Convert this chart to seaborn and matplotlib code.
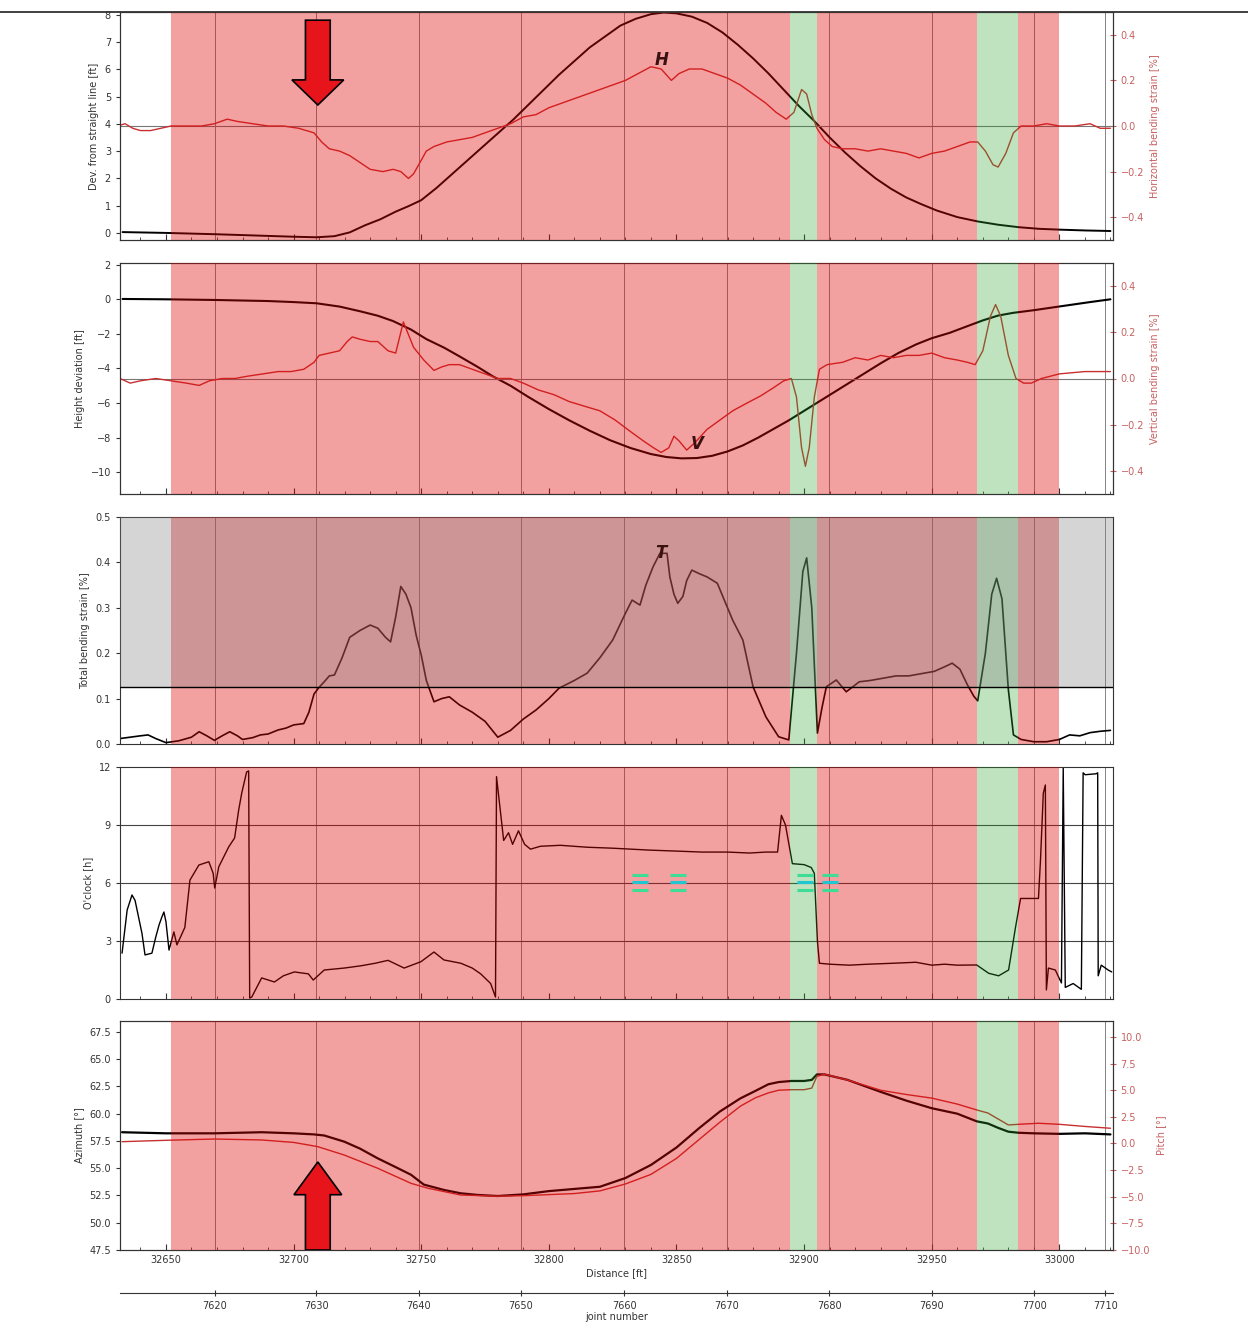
import numpy as np
import matplotlib
matplotlib.use("Agg")
import matplotlib.pyplot as plt
import seaborn as sns
from matplotlib.patches import FancyArrow
from matplotlib.lines import Line2D
from matplotlib.ticker import MultipleLocator

# ----- DATA -----
X_MIN, X_MAX = 32632, 33021

red_zones = [(32652, 32894.5), (32905, 32967.6), (32983.6, 33000)]
green_zones = [(32894.5, 32905), (32967.6, 32983.6)]

joint_pos = [32669.1, 32708.9, 32749.1, 32788.9, 32829.5, 32869.7, 32909.9, 32950.0, 32990.2, 33017.9]
joint_num = [7620, 7630, 7640, 7650, 7660, 7670, 7680, 7690, 7700, 7710]

# panel 1 : deviation from straight line (H) + horizontal bending strain
h_dist = [32633, 32650, 32670, 32690, 32700, 32709, 32716, 32722, 32728, 32734, 32740, 32745, 32750,
          32756, 32762, 32768, 32774, 32780, 32786, 32792, 32798, 32804, 32810, 32816, 32822, 32828,
          32834, 32840, 32845, 32850, 32856, 32862, 32868, 32874, 32880, 32886, 32892, 32898, 32904,
          32910, 32916, 32922, 32928, 32934, 32940, 32946, 32952, 32960, 32968, 32976, 32984, 32992,
          33000, 33010, 33020]
h_dev = [0.03, 0.0, -0.05, -0.11, -0.14, -0.16, -0.12, 0.02, 0.28, 0.5, 0.78, 0.98, 1.2,
         1.65, 2.15, 2.65, 3.15, 3.65, 4.15, 4.7, 5.25, 5.8, 6.3, 6.8, 7.2, 7.6,
         7.85, 8.02, 8.08, 8.05, 7.93, 7.7, 7.35, 6.9, 6.4, 5.85, 5.25, 4.65, 4.1,
         3.5, 2.95, 2.45, 2.0, 1.62, 1.3, 1.05, 0.82, 0.58, 0.42, 0.3, 0.21, 0.15,
         0.12, 0.09, 0.07]

hs_dist = [32631, 32634, 32637, 32640, 32644, 32648, 32652, 32658, 32664, 32669, 32674, 32678, 32684,
           32690, 32696, 32702, 32708, 32711, 32714, 32718, 32722, 32726, 32730, 32735, 32739, 32742,
           32745, 32747, 32750, 32752, 32755, 32760, 32765, 32770, 32775, 32780, 32785, 32790, 32795,
           32800, 32805, 32810, 32815, 32820, 32825, 32830, 32835, 32840, 32844, 32848, 32851, 32855,
           32860, 32865, 32870, 32875, 32880, 32885, 32889, 32893, 32896, 32899, 32901, 32903, 32905,
           32908, 32911, 32915, 32920, 32925, 32930, 32935, 32940, 32945, 32950, 32955, 32960, 32965,
           32968, 32971, 32974, 32976, 32979, 32982, 32985, 32990, 32995, 33000, 33006, 33012, 33016,
           33020]
hs_val = [0.0, 0.01, -0.01, -0.02, -0.02, -0.01, 0.0, 0.0, 0.0, 0.01, 0.03, 0.02, 0.01,
          0.0, 0.0, -0.01, -0.03, -0.07, -0.1, -0.11, -0.13, -0.16, -0.19, -0.2, -0.19, -0.2,
          -0.23, -0.21, -0.15, -0.11, -0.09, -0.07, -0.06, -0.05, -0.03, -0.01, 0.01, 0.04, 0.05,
          0.08, 0.1, 0.12, 0.14, 0.16, 0.18, 0.2, 0.23, 0.26, 0.25, 0.2, 0.23, 0.25,
          0.25, 0.23, 0.21, 0.18, 0.14, 0.1, 0.06, 0.03, 0.06, 0.16, 0.14, 0.05, -0.01,
          -0.06, -0.09, -0.1, -0.1, -0.11, -0.1, -0.11, -0.12, -0.14, -0.12, -0.11, -0.09, -0.07,
          -0.07, -0.11, -0.17, -0.18, -0.12, -0.03, 0.0, 0.0, 0.01, 0.0, 0.0, 0.01, -0.01,
          -0.01]

# panel 2 : height deviation (V) + vertical bending strain
v_dist = [32633, 32650, 32670, 32690, 32700, 32709, 32718, 32726, 32733, 32739, 32746, 32752, 32759,
          32765, 32772, 32778, 32785, 32792, 32800, 32808, 32816, 32824, 32832, 32840, 32846, 32852,
          32858, 32864, 32870, 32876, 32882, 32888, 32894, 32900, 32906, 32912, 32918, 32924, 32930,
          32937, 32944, 32950, 32957, 32964, 32970, 32976, 32982, 32990, 32996, 33004, 33012, 33020]
v_dev = [0.02, 0.0, -0.04, -0.1, -0.16, -0.23, -0.42, -0.69, -0.95, -1.26, -1.75, -2.3, -2.8,
         -3.3, -3.9, -4.45, -5.0, -5.65, -6.35, -7.0, -7.6, -8.15, -8.6, -8.95, -9.12, -9.2,
         -9.18, -9.05, -8.8, -8.45, -8.0, -7.5, -7.0, -6.45, -5.9, -5.35, -4.8, -4.25, -3.7,
         -3.1, -2.6, -2.25, -1.94, -1.55, -1.22, -0.94, -0.78, -0.63, -0.5, -0.33, -0.16, 0.0]

vs_dist = [32632, 32636, 32640, 32646, 32652, 32658, 32663, 32667, 32672, 32677, 32682, 32688, 32694,
           32699, 32704, 32708, 32710, 32714, 32718, 32721, 32723, 32726, 32730, 32733, 32737, 32740,
           32742, 32743, 32745, 32747, 32751, 32755, 32758, 32761, 32765, 32770, 32775, 32780, 32785,
           32790, 32796, 32802, 32808, 32814, 32820, 32826, 32832, 32837, 32841, 32844, 32847, 32849,
           32851, 32854, 32857, 32862, 32867, 32872, 32877, 32883, 32888, 32892, 32895, 32897, 32899,
           32900.5, 32902, 32904, 32906, 32909, 32915, 32920, 32925, 32930, 32935, 32940, 32945, 32950,
           32955, 32960, 32964, 32967, 32970, 32973, 32975, 32977, 32980, 32983, 32986, 32989, 32993,
           33000, 33010, 33020]
vs_val = [0.0, -0.02, -0.01, 0.0, -0.01, -0.02, -0.03, -0.01, 0.0, 0.0, 0.01, 0.02, 0.03,
          0.03, 0.04, 0.07, 0.1, 0.11, 0.12, 0.16, 0.18, 0.17, 0.16, 0.16, 0.12, 0.11,
          0.2, 0.245, 0.19, 0.135, 0.08, 0.035, 0.05, 0.06, 0.06, 0.04, 0.02, 0.0, 0.0,
          -0.02, -0.05, -0.07, -0.1, -0.12, -0.14, -0.18, -0.23, -0.27, -0.3, -0.32, -0.3, -0.25,
          -0.27, -0.31, -0.28, -0.22, -0.18, -0.14, -0.11, -0.075, -0.04, -0.01, 0.0, -0.08, -0.3,
          -0.38, -0.3, -0.08, 0.04, 0.06, 0.07, 0.09, 0.08, 0.1, 0.09, 0.1, 0.1, 0.11,
          0.09, 0.08, 0.07, 0.06, 0.12, 0.27, 0.32, 0.27, 0.1, 0.0, -0.02, -0.02, 0.0,
          0.02, 0.03, 0.03]

# panel 3 : total bending strain (T)
t_dist = [32632, 32636, 32640, 32643, 32646, 32650, 32655, 32660, 32663, 32666, 32669, 32672, 32675,
          32678, 32680, 32684, 32687, 32690, 32694, 32697, 32700, 32704, 32706, 32708, 32710, 32712,
          32714, 32716, 32719, 32722, 32726, 32730, 32733, 32736, 32738, 32740, 32742, 32744, 32746,
          32748, 32750, 32752, 32755, 32758, 32761, 32765, 32770, 32775, 32780, 32785, 32790, 32795,
          32800, 32804, 32810, 32815, 32820, 32825, 32830, 32832.6, 32835.7, 32838, 32840.8, 32843.5,
          32846.3, 32847.4, 32849, 32850.5, 32852.5, 32854, 32856, 32859, 32862, 32866, 32870, 32872,
          32876, 32880, 32885, 32890, 32894, 32897, 32899.5, 32901, 32903, 32905.2, 32907, 32908.7,
          32912.6, 32916.5, 32921.6, 32926, 32931, 32936, 32941, 32946, 32951, 32955, 32958, 32961,
          32964, 32966.5, 32968, 32971, 32973.5, 32975.4, 32977.5, 32980, 32982, 32985, 32990, 32995,
          33000, 33004, 33008, 33012, 33016, 33020]
t_val = [0.012, 0.015, 0.018, 0.02, 0.012, 0.003, 0.007, 0.015, 0.027, 0.018, 0.008, 0.018, 0.027,
         0.018, 0.01, 0.014, 0.02, 0.022, 0.031, 0.035, 0.042, 0.045, 0.07, 0.11, 0.125, 0.137,
         0.15, 0.152, 0.19, 0.235, 0.25, 0.262, 0.255, 0.235, 0.225, 0.28, 0.347, 0.33, 0.3,
         0.24, 0.196, 0.14, 0.093, 0.1, 0.104, 0.086, 0.07, 0.05, 0.015, 0.03, 0.055, 0.075,
         0.1, 0.123, 0.14, 0.156, 0.19, 0.229, 0.288, 0.317, 0.306, 0.35, 0.39, 0.42,
         0.42, 0.368, 0.33, 0.31, 0.325, 0.36, 0.383, 0.375, 0.368, 0.354, 0.3, 0.273,
         0.229, 0.126, 0.06, 0.016, 0.009, 0.2, 0.38, 0.41, 0.3, 0.024, 0.08, 0.126,
         0.141, 0.115, 0.137, 0.14, 0.145, 0.15, 0.15, 0.155, 0.16, 0.17, 0.178, 0.165,
         0.13, 0.105, 0.095, 0.2, 0.33, 0.365, 0.32, 0.12, 0.02, 0.01, 0.005, 0.005,
         0.01, 0.02, 0.018, 0.025, 0.028, 0.03]
t_limit = 0.125

# panel 4 : o'clock position
c_dist = [32632.8, 32634.8, 32636.7, 32637.9, 32640.6, 32641.8, 32644.5, 32646, 32647.3, 32648.4,
          32649.2, 32650, 32651.2, 32653.1, 32654.3, 32657.4, 32659.4, 32662.9, 32666.8, 32668.5,
          32669.1, 32670.7, 32674.6, 32676.9, 32678.5, 32679.7, 32681.6, 32682.4, 32682.8, 32683.6,
          32687.5, 32692.5, 32696, 32700.3, 32705.8, 32707.7, 32712, 32719.8, 32726.5, 32732,
          32737, 32743.3, 32749.9, 32755, 32758.9, 32765.5, 32770, 32773.3, 32777.2, 32779.1,
          32779.5, 32782.3, 32784.2, 32785.8, 32788.1, 32790.5, 32792.8, 32796.7, 32804.5, 32815,
          32825, 32839.6, 32850, 32860, 32870, 32878.6, 32885, 32889.6, 32891.1, 32892.7,
          32895.4, 32900, 32902.8, 32904, 32905.2, 32906, 32910, 32917.7, 32925, 32935,
          32943.8, 32950, 32955, 32960, 32967.6, 32972.3, 32976.2, 32980.1, 32982.8, 32984.8,
          32988, 32991.8, 32992.6, 32993.7, 32994.5, 32994.9, 32995.7, 32998.4, 33000.8, 33001.5,
          33002.3, 33005.4, 33008.6, 33009.3, 33010.1, 33014.4, 33015, 33015.2, 33016.4, 33019.1,
          33020.5]
c_val = [2.37, 4.6, 5.38, 5.1, 3.4, 2.28, 2.37, 3.2, 3.83, 4.24,
         4.5, 4.0, 2.53, 3.47, 2.8, 3.7, 6.15, 6.93, 7.1, 6.5,
         5.74, 6.84, 7.87, 8.33, 9.78, 10.66, 11.74, 11.8, 0.05, 0.1,
         1.09, 0.88, 1.2, 1.4, 1.3, 0.98, 1.5, 1.6, 1.72, 1.85,
         2.0, 1.6, 1.93, 2.43, 2.02, 1.85, 1.6, 1.3, 0.8, 0.1,
         11.5, 8.2, 8.6, 8.0, 8.7, 8.0, 7.75, 7.9, 7.95, 7.85,
         7.8, 7.7, 7.65, 7.6, 7.6, 7.55, 7.6, 7.6, 9.5, 9.0,
         7.0, 6.95, 6.8, 6.5, 3.0, 1.85, 1.8, 1.75, 1.8, 1.85,
         1.9, 1.75, 1.8, 1.75, 1.76, 1.33, 1.2, 1.5, 3.7, 5.2,
         5.2, 5.2, 7.2, 10.65, 11.07, 0.47, 1.6, 1.5, 0.83, 11.95,
         0.6, 0.8, 0.5, 11.7, 11.6, 11.65, 11.7, 1.2, 1.75, 1.5,
         1.4]

feat_dist = [32835.7, 32850.5, 32900.5, 32910.2]
feat_rows = [6.4, 6.05, 5.65]
feat_colors = ['#3ddc97', '#1fc8d0', '#3ddc97']

# panel 5 : azimuth + pitch
az_dist = [32632.8, 32650, 32669, 32687.5, 32700, 32708, 32712, 32719.8, 32726, 32733, 32740, 32746,
           32751, 32759, 32765.5, 32772, 32780, 32790, 32800, 32810, 32820, 32830, 32840, 32850,
           32859, 32867, 32875, 32881, 32886, 32890, 32895, 32900, 32903, 32905, 32908, 32917,
           32930, 32940, 32950, 32960, 32967.6, 32972, 32976, 32980, 32984, 32990, 33000, 33010, 33020]
az_val = [58.3, 58.2, 58.2, 58.3, 58.2, 58.1, 58.0, 57.44, 56.8, 55.9, 55.1, 54.4,
          53.5, 53.0, 52.7, 52.55, 52.45, 52.6, 52.9, 53.1, 53.3, 54.1, 55.3, 56.9,
          58.7, 60.2, 61.4, 62.1, 62.7, 62.9, 63.0, 63.0, 63.1, 63.6, 63.6, 63.1,
          62.0, 61.2, 60.5, 60.0, 59.3, 59.1, 58.7, 58.35, 58.25, 58.2, 58.15, 58.2, 58.1]

p_dist = [32632.8, 32650, 32669, 32687.5, 32700, 32705.8, 32709.5, 32719.8, 32733, 32746, 32752.6,
          32765.5, 32780, 32790, 32800, 32810, 32820, 32830, 32840, 32850, 32859, 32867, 32875,
          32881, 32886, 32890, 32895, 32900, 32903, 32905, 32908, 32917, 32930, 32940, 32950,
          32960, 32967.6, 32972, 32976, 32980, 32984, 32991.8, 33000, 33010, 33020]
p_val = [0.17, 0.3, 0.42, 0.33, 0.1, -0.14, -0.3, -1.08, -2.33, -3.74, -4.2,
         -4.84, -4.95, -4.9, -4.8, -4.7, -4.45, -3.8, -2.9, -1.4, 0.4, 2.0, 3.5,
         4.3, 4.75, 5.0, 5.05, 5.05, 5.2, 6.3, 6.5, 5.96, 5.0, 4.6, 4.26,
         3.7, 3.15, 2.86, 2.3, 1.74, 1.8, 1.9, 1.8, 1.6, 1.43]

arrow_x = 32709.5

# ----- STYLE -----
sns.set_style("ticks")
plt.rcParams['font.family'] = ['DejaVu Sans']
plt.rcParams['axes.edgecolor'] = '#333333'
plt.rcParams['xtick.color'] = '#333333'
plt.rcParams['ytick.color'] = '#333333'
plt.rcParams['axes.labelcolor'] = '#333333'

RED_LINE = '#c83030'
RED_TXT = '#c86060'
RED_FILL = '#e20505'
FS = 7

W, H = 1248, 1330
fig = plt.figure(figsize=(W / 100, H / 100), dpi=100)


def rect(top, bottom):
    return [120 / W, 1 - bottom / H, (1113 - 120) / W, (bottom - top) / H]


ax1 = fig.add_axes(rect(12, 240))
ax2 = fig.add_axes(rect(263, 494))
ax3 = fig.add_axes(rect(517, 744))
ax4 = fig.add_axes(rect(767, 999))
ax5 = fig.add_axes(rect(1021, 1250))
axes = [ax1, ax2, ax3, ax4, ax5]


def line(ax, x, y, color, lw, z=2):
    sns.lineplot(x=x, y=y, ax=ax, color=color, lw=lw, sort=False,
                 estimator=None, legend=False, zorder=z)


def zones(ax, z=3):
    for a, b in red_zones:
        ax.axvspan(a, b, color=RED_FILL, alpha=0.38, lw=0, zorder=z)
    for a, b in green_zones:
        ax.axvspan(a, b, color='#2ca02c', alpha=0.3, lw=0, zorder=z)


for ax in axes:
    ax.set_xlim(X_MIN, X_MAX)
    ax.xaxis.set_major_locator(MultipleLocator(50))
    ax.xaxis.set_minor_locator(MultipleLocator(10))
    ax.tick_params(axis='x', which='both', direction='in', labelsize=FS)
    ax.tick_params(axis='x', which='major', length=4)
    ax.tick_params(axis='x', which='minor', length=2.5)
    ax.tick_params(axis='y', direction='out', length=3, labelsize=FS)
    for jp in joint_pos:
        ax.axvline(jp, color='#555555', lw=0.5, zorder=1)
    if ax is not ax5:
        ax.set_xticklabels([])

# ----- PANEL 1 -----
ax1r = ax1.twinx()
line(ax1, h_dist, h_dev, 'black', 1.4)
line(ax1r, hs_dist, hs_val, RED_LINE, 1.0)
ax1r.axhline(0, color='#777777', lw=0.8, zorder=1)
zones(ax1r)
ax1.set_ylim(-0.26, 8.1)
ax1.set_yticks(range(0, 9))
ax1r.set_ylim(-0.5, 0.5)
ax1r.set_yticks([-0.4, -0.2, 0.0, 0.2, 0.4])
ax1.set_ylabel('Dev. from straight line [ft]', fontsize=FS)
ax1r.set_ylabel('Horizontal bending strain [%]', fontsize=FS, color=RED_TXT)
ax1r.text(32844, 0.29, 'H', fontsize=12, fontweight='bold', fontstyle='italic',
          color='#3a1010', ha='center', va='center', zorder=8)
ax1r.add_patch(FancyArrow(arrow_x, 7.8, 0, -3.11, width=9.7, head_width=20.3, head_length=0.92,
                          length_includes_head=True, transform=ax1.transData,
                          fc='#e8141c', ec='black', lw=1.2, zorder=9))

# ----- PANEL 2 -----
ax2r = ax2.twinx()
line(ax2, v_dist, v_dev, 'black', 1.5)
line(ax2r, vs_dist, vs_val, RED_LINE, 1.0)
ax2r.axhline(0, color='#777777', lw=0.8, zorder=1)
zones(ax2r)
ax2.set_ylim(-11.26, 2.1)
ax2.set_yticks(range(-10, 3, 2))
ax2r.set_ylim(-0.5, 0.5)
ax2r.set_yticks([-0.4, -0.2, 0.0, 0.2, 0.4])
ax2.set_ylabel('Height deviation [ft]', fontsize=FS)
ax2r.set_ylabel('Vertical bending strain [%]', fontsize=FS, color=RED_TXT)
ax2r.text(32858, -0.285, 'V', fontsize=12, fontweight='bold', fontstyle='italic',
          color='#3a1010', ha='center', va='center', zorder=8)

for axr in (ax1r, ax2r):
    axr.set_xlim(X_MIN, X_MAX)
    axr.tick_params(axis='y', direction='inout', length=4, labelsize=FS, colors=RED_TXT)
    axr.tick_params(axis='x', which='both', direction='in', labelbottom=False)

# ----- PANEL 3 -----
line(ax3, t_dist, t_val, 'black', 1.2)
zones(ax3)
ax3.axhspan(t_limit, 0.5, color='gray', alpha=0.33, lw=0, zorder=4)
ax3.axhline(t_limit, color='black', lw=1.0, zorder=5)
ax3.set_ylim(0, 0.5)
ax3.set_yticks([0.0, 0.1, 0.2, 0.3, 0.4, 0.5])
ax3.set_ylabel('Total bending strain [%]', fontsize=FS)
ax3.text(32844, 0.42, 'T', fontsize=12, fontweight='bold', fontstyle='italic',
         color='#3a1010', ha='center', va='center', zorder=8)

# ----- PANEL 4 -----
line(ax4, c_dist, c_val, 'black', 1.0)
for hv in (3, 6, 9):
    ax4.axhline(hv, color='#444444', lw=0.8, zorder=1)
zones(ax4)
for fy, fc in zip(feat_rows, feat_colors):
    ax4.scatter(feat_dist, [fy] * len(feat_dist), marker='_', s=120, lw=2.2,
                color=fc, zorder=6)
ax4.set_ylim(0, 12)
ax4.set_yticks([0, 3, 6, 9, 12])
ax4.set_ylabel("O'clock [h]", fontsize=FS)

# ----- PANEL 5 -----
ax5r = ax5.twinx()
line(ax5, az_dist, az_val, 'black', 1.6)
line(ax5r, p_dist, p_val, RED_LINE, 1.0)
zones(ax5r)
ax5.set_ylim(47.5, 68.5)
ax5.set_yticks(np.arange(47.5, 68, 2.5))
ax5r.set_ylim(-10, 11.5)
ax5r.set_yticks(np.arange(-10, 10.1, 2.5))
ax5r.set_xlim(X_MIN, X_MAX)
ax5r.tick_params(axis='y', direction='inout', length=4, labelsize=FS, colors=RED_TXT)
ax5.set_ylabel('Azimuth [°]', fontsize=FS)
ax5r.set_ylabel('Pitch [°]', fontsize=FS, color=RED_TXT)
ax5.set_xlabel('Distance [ft]', fontsize=FS, labelpad=2)
ax5r.add_patch(FancyArrow(arrow_x, 47.5, 0, 8.07, width=9.7, head_width=18.7, head_length=3.0,
                          length_includes_head=True, transform=ax5.transData,
                          fc='#e8141c', ec='black', lw=1.2, zorder=9))

# joint number axis
ax_j = ax5.twiny()
ax_j.set_xlim(X_MIN, X_MAX)
ax_j.xaxis.set_ticks_position('bottom')
ax_j.xaxis.set_label_position('bottom')
ax_j.spines['bottom'].set_position(('outward', 31))
for s in ('top', 'left', 'right'):
    ax_j.spines[s].set_visible(False)
ax_j.set_xticks(joint_pos)
ax_j.set_xticklabels([str(j) for j in joint_num])
ax_j.tick_params(axis='x', direction='inout', length=4, labelsize=FS)
ax_j.set_xlabel('joint number', fontsize=FS, labelpad=1)

for ax in (ax1r, ax2r, ax5r):
    ax.set_xlabel('')

# screenshot border line at the top
fig.add_artist(Line2D([0, 1], [1 - 11.5 / H, 1 - 11.5 / H], transform=fig.transFigure,
                      color='#333333', lw=1.3))

fig.savefig('out.png', dpi=100)
